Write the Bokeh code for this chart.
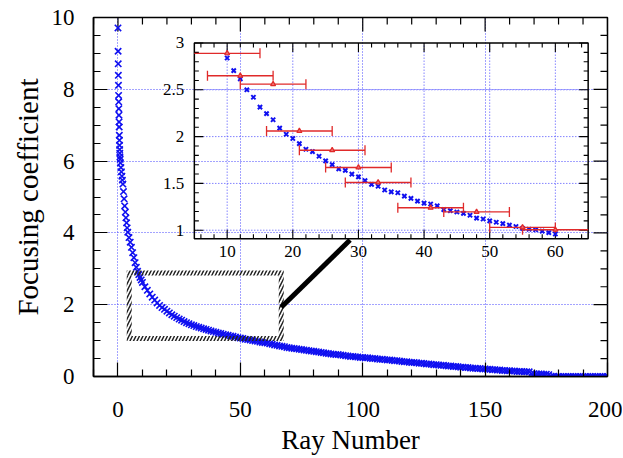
import math
from bokeh.plotting import figure
from bokeh.models import Range1d, FixedTicker
from bokeh.core.properties import value
from bokeh.embed import file_html
from bokeh.resources import INLINE

# ---------------- data ----------------
ray_main = [0.0, 0.05, 0.1, 0.15, 0.2, 0.25, 0.3, 0.35, 0.4, 0.45, 0.5, 0.55, 0.6, 0.65,
            0.7, 0.75, 0.8, 0.9, 1.0, 1.2, 1.4, 1.6, 1.8, 2.0, 2.25, 2.5, 2.75, 3.0, 3.25,
            3.5, 3.75, 4.0, 4.5, 5.0, 5.5, 6.0, 6.5, 7.0, 7.5, 8.0, 8.5, 9.0, 9.5] + list(range(10, 201))
coef_main = [9.71, 9.06, 8.71, 8.39, 8.11, 7.83, 7.65, 7.46, 7.28, 7.09, 6.95, 6.72, 6.58, 6.44,
             6.32, 6.22, 6.12, 6.05, 5.95, 5.82, 5.70, 5.58, 5.47, 5.36, 5.15, 4.95, 4.75, 4.58, 4.42,
             4.28, 4.14, 4.02, 3.87, 3.74, 3.60, 3.45, 3.31, 3.17, 3.04, 2.93, 2.84, 2.76, 2.69,
             2.62, 2.50, 2.40, 2.30, 2.21, 2.13, 2.05, 1.98, 1.92, 1.87,
             1.82, 1.77, 1.72, 1.68, 1.64, 1.60, 1.57, 1.53, 1.50, 1.47,
             1.44, 1.42, 1.39, 1.37, 1.35, 1.33, 1.31, 1.29, 1.27, 1.25,
             1.23, 1.21, 1.20, 1.18, 1.16, 1.15, 1.13, 1.12, 1.10, 1.08,
             1.07, 1.06, 1.04, 1.03, 1.02, 1.00, 0.99, 0.98, 0.96, 0.95,
             0.94, 0.93, 0.91, 0.90, 0.88, 0.87, 0.85, 0.84, 0.83, 0.81,
             0.80, 0.79, 0.78, 0.77, 0.76, 0.75, 0.74, 0.73, 0.72, 0.71,
             0.70, 0.69, 0.68, 0.67, 0.66, 0.65, 0.64, 0.63, 0.62, 0.61,
             0.61, 0.60, 0.59, 0.58, 0.57, 0.56, 0.56, 0.55, 0.54, 0.53,
             0.53, 0.52, 0.52, 0.51, 0.50, 0.50, 0.49, 0.48, 0.48, 0.47,
             0.46, 0.46, 0.45, 0.44, 0.44, 0.43, 0.42, 0.41, 0.41, 0.40,
             0.39, 0.39, 0.38, 0.37, 0.37, 0.36, 0.35, 0.35, 0.34, 0.33,
             0.33, 0.32, 0.31, 0.31, 0.30, 0.29, 0.29, 0.28, 0.28, 0.27,
             0.26, 0.26, 0.25, 0.25, 0.24, 0.23, 0.23, 0.22, 0.22, 0.21,
             0.21, 0.20, 0.20, 0.19, 0.19, 0.18, 0.18, 0.17, 0.17, 0.16,
             0.16, 0.15, 0.15, 0.14, 0.14, 0.14, 0.13, 0.13, 0.13, 0.08,
             0.08, 0.07, 0.07, 0.07, 0.06, 0.06, 0.05, 0.01, 0.01, 0.00,
             0.00, 0.00, 0.00, 0.00, 0.00, 0.00, 0.00, 0.00, 0.00, 0.00,
             0.00, 0.00, 0.00, 0.00, 0.00, 0.00, 0.00, 0.00, 0.00, 0.00,
             0.00]

ray_inset = list(range(10, 61))
coef_inset = [2.84, 2.705, 2.617, 2.50, 2.42, 2.315, 2.245, 2.18, 2.09, 2.025,
              1.98, 1.925, 1.865, 1.84, 1.79, 1.74, 1.70, 1.655, 1.64, 1.60,
              1.57, 1.53, 1.49, 1.47, 1.43, 1.41, 1.40, 1.365, 1.34, 1.31,
              1.29, 1.28, 1.26, 1.22, 1.21, 1.195, 1.18, 1.16, 1.13, 1.12,
              1.10, 1.085, 1.07, 1.055, 1.04, 1.02, 1.01, 1.005, 0.99, 0.975,
              0.96]

ref_ray = [10, 12, 17, 21, 26, 30, 33, 41, 48, 55, 60]
ref_coef = [2.89, 2.65, 2.56, 2.06, 1.854, 1.67, 1.51, 1.24, 1.195, 1.03, 1.005]
ref_lo = [5, 7, 12, 16, 21, 25, 28, 36, 43, 50, 55]
ref_hi = [15, 17, 22, 26, 31, 35, 38, 46, 53, 60, 65]

x_ticks = [0, 50, 100, 150, 200]
x_labels = ["0", "50", "100", "150", "200"]
y_ticks = [0, 2, 4, 6, 8, 10]
x_grid = [0, 50, 100, 150]
y_grid = [2, 4, 6, 8]
ix_ticks = [10, 20, 30, 40, 50, 60]
ix_labels = ["10", "20", "30", "40", "50", "60"]
iy_ticks = [1, 1.5, 2, 2.5, 3]
iy_labels = ["1", "1.5", "2", "2.5", "3"]
iy_grid = [1, 1.5, 2, 2.5]

x_title = "Ray Number"
y_title = "Focusing coefficient"

zoom_box_x = [4.6, 66.7]
zoom_box_y = [1.06, 2.88]
link_x = [66.7, 94.8]
link_y = [1.93, 3.80]

# ---------------- styling / layout ----------------
FONT = "Liberation Serif"
BLUE = "#1010f0"
GRID = "#4646ff"
RED = "#e02a2a"

W, H = 622, 457
BL, BR, BT, BB = 93, 15, 17, 79
XR = (-10, 200)
YR = (0, 10)

p = figure(width=W, height=H, x_range=Range1d(*XR), y_range=Range1d(*YR),
           output_backend="svg", toolbar_location=None,
           min_border_left=BL, min_border_right=BR, min_border_top=BT, min_border_bottom=BB)
p.background_fill_color = "white"
p.border_fill_color = "white"
p.outline_line_color = "black"
p.outline_line_width = 1.5

fw = W - BL - BR
fh = H - BT - BB
ux = (XR[1] - XR[0]) / fw
uy = (YR[1] - YR[0]) / fh

x_minor = [v for v in range(-10, 201, 10) if v not in x_ticks]
y_minor = [i / 2 for i in range(1, 20) if i % 4]

p.xaxis.ticker = FixedTicker(ticks=x_ticks, minor_ticks=x_minor)
p.yaxis.ticker = FixedTicker(ticks=y_ticks, minor_ticks=y_minor)
p.xaxis.major_label_overrides = {t: s for t, s in zip(x_ticks, x_labels)}
MAJ, MIN = 14, 7
for ax in (p.xaxis, p.yaxis):
    ax.major_tick_in = MAJ
    ax.major_tick_out = 0
    ax.minor_tick_in = MIN
    ax.minor_tick_out = 0
    ax.axis_line_color = "black"
    ax.axis_line_width = 1.5
    ax.major_tick_line_width = 1.2
    ax.minor_tick_line_width = 1.2
    ax.major_label_text_font = FONT
    ax.major_label_text_font_size = "23px"
    ax.major_label_text_color = "black"
    ax.axis_label_text_font = FONT
    ax.axis_label_text_font_style = "normal"
    ax.axis_label_text_color = "black"
p.xaxis.axis_label = x_title
p.yaxis.axis_label = y_title
p.xaxis.axis_label_text_font_size = "27px"
p.yaxis.axis_label_text_font_size = "29px"
p.xaxis.major_label_standoff = 25
p.yaxis.major_label_standoff = 19
p.xaxis.axis_label_standoff = 5
p.yaxis.axis_label_standoff = 5

p.xgrid.ticker = FixedTicker(ticks=x_grid)
p.ygrid.ticker = FixedTicker(ticks=y_grid)
p.grid.grid_line_color = GRID
p.grid.grid_line_dash = "1 2"
p.grid.grid_line_width = 1

# mirrored ticks on top and right of main frame
tx = x_ticks + x_minor
tlx = [MAJ] * len(x_ticks) + [MIN] * len(x_minor)
p.segment(x0=tx, y0=[YR[1]] * len(tx), x1=tx, y1=[YR[1] - l * uy for l in tlx],
          line_color="black", line_width=1.2)
ty = y_ticks + y_minor
tly = [MAJ] * len(y_ticks) + [MIN] * len(y_minor)
p.segment(x0=[XR[1]] * len(ty), y0=ty, x1=[XR[1] - l * ux for l in tly], y1=ty,
          line_color="black", line_width=1.2)

# main data
p.scatter(x=ray_main, y=coef_main, marker="x", size=9, line_color=BLUE, line_width=1.6)

# hatched zoom box
bx = 5 * ux
by = 5 * uy
x0, x1 = zoom_box_x
y0, y1 = zoom_box_y
p.quad(left=[x0 - bx / 2, x0 - bx / 2, x0 - bx / 2, x1 - bx / 2],
       right=[x1 + bx / 2, x1 + bx / 2, x0 + bx / 2, x1 + bx / 2],
       bottom=[y1 - by / 2, y0 - by / 2, y0 + by / 2, y0 + by / 2],
       top=[y1 + by / 2, y0 + by / 2, y1 - by / 2, y1 - by / 2],
       fill_color=None, line_color=None,
       hatch_pattern="/", hatch_color="#222222", hatch_scale=7, hatch_weight=1.5)

# connector
p.line(x=link_x, y=link_y, line_width=5, line_color="black")

# ---------------- inset ----------------
IXR = (5, 65)
IYR = (0.91, 3.0)
inset_x = (31.2, 192.1)
inset_y = (3.84, 9.29)
ins = p.subplot(x_source=Range1d(*IXR), y_source=Range1d(*IYR),
                x_target=Range1d(*inset_x), y_target=Range1d(*inset_y))
iw = (inset_x[1] - inset_x[0]) / ux
ih = (inset_y[1] - inset_y[0]) / uy
iux = (IXR[1] - IXR[0]) / iw
iuy = (IYR[1] - IYR[0]) / ih

# inset grid
ins.segment(x0=ix_ticks, y0=[IYR[0]] * len(ix_ticks), x1=ix_ticks, y1=[IYR[1]] * len(ix_ticks),
            line_color=GRID, line_dash="1 2", line_width=1)
ins.segment(x0=[IXR[0]] * len(iy_grid), y0=iy_grid, x1=[IXR[1]] * len(iy_grid), y1=iy_grid,
            line_color=GRID, line_dash="1 2", line_width=1)

# inset ticks on all four sides
IMAJ, IMIN = 9, 4.5
ix_minor = [v for v in range(6, 65, 2) if v % 10]
iy_minor = [round(1 + 0.1 * k, 1) for k in range(0, 20) if k % 5]
itx = ix_ticks + ix_minor
itlx = [IMAJ] * len(ix_ticks) + [IMIN] * len(ix_minor)
ins.segment(x0=itx, y0=[IYR[0]] * len(itx), x1=itx, y1=[IYR[0] + l * iuy for l in itlx],
            line_color="black", line_width=1.1)
ins.segment(x0=itx, y0=[IYR[1]] * len(itx), x1=itx, y1=[IYR[1] - l * iuy for l in itlx],
            line_color="black", line_width=1.1)
ity = iy_ticks + iy_minor
itly = [IMAJ] * len(iy_ticks) + [IMIN] * len(iy_minor)
ins.segment(x0=[IXR[0]] * len(ity), y0=ity, x1=[IXR[0] + l * iux for l in itly], y1=ity,
            line_color="black", line_width=1.1)
ins.segment(x0=[IXR[1]] * len(ity), y0=ity, x1=[IXR[1] - l * iux for l in itly], y1=ity,
            line_color="black", line_width=1.1)

# inset frame
ins.quad(left=[IXR[0]], right=[IXR[1]], bottom=[IYR[0]], top=[IYR[1]],
         fill_color=None, line_color="black", line_width=1.5)

# inset tick labels
ins.text(x=ix_ticks, y=[IYR[0]] * len(ix_ticks), text=ix_labels, y_offset=7,
         text_align="center", text_baseline="top",
         text_font=value(FONT), text_font_size=value("17px"), text_color="black")
ins.text(x=[IXR[0]] * len(iy_ticks), y=iy_ticks, text=iy_labels, x_offset=-10,
         text_align="right", text_baseline="middle",
         text_font=value(FONT), text_font_size=value("17px"), text_color="black")

# inset data
ins.scatter(x=ray_inset, y=coef_inset, marker="x", size=6, line_color=BLUE, line_width=2)

ins.segment(x0=ref_lo, y0=ref_coef, x1=ref_hi, y1=ref_coef, line_color=RED, line_width=1.3)
cap_x = [v for v in ref_lo if v > IXR[0]] + [v for v in ref_hi if v < IXR[1]]
cap_y = [c for v, c in zip(ref_lo, ref_coef) if v > IXR[0]] + [c for v, c in zip(ref_hi, ref_coef) if v < IXR[1]]
ins.scatter(x=cap_x, y=cap_y, marker="dash", angle=math.pi / 2, size=10,
            line_color=RED, line_width=1.3)
ins.scatter(x=ref_ray, y=ref_coef, marker="triangle", size=5,
            line_color=RED, line_width=1.2, fill_color="#f07070")

open("out.html", "w").write(file_html(p, INLINE))
